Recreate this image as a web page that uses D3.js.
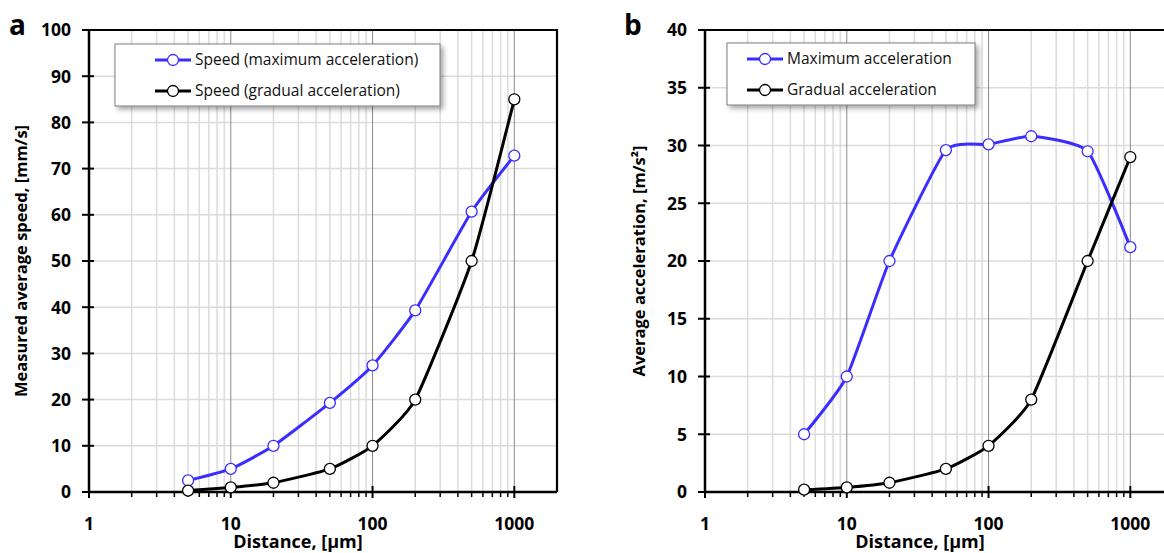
<!DOCTYPE html>
<html>
<head>
<meta charset="utf-8">
<script src="https://cdn.jsdelivr.net/npm/d3@7"></script>
<style>
  body { margin: 0; background: #fff; }
  svg { display: block; font-family: "Open Sans", "DejaVu Sans", sans-serif; }
</style>
</head>
<body>
<div id="chart"></div>
<script>
// distances, µm
const distances = [5, 10, 20, 50, 100, 200, 500, 1000];

// panel a: measured average speed, mm/s
const speedMax = [2.5, 5, 10, 19.3, 27.4, 39.3, 60.7, 72.8];
const speedGradual = [0.3, 1, 2, 5, 10, 20, 50, 85];

// panel b: average acceleration, m/s²
const accelMax = [5, 10, 20, 29.6, 30.1, 30.8, 29.5, 21.2];
const accelGradual = [0.2, 0.4, 0.8, 2, 4, 8, 20, 29];

const xTickLabels = [1, 10, 100, 1000];
const speedTicks = [0, 10, 20, 30, 40, 50, 60, 70, 80, 90, 100];
const accelTicks = [0, 5, 10, 15, 20, 25, 30, 35, 40];

const BLUE = '#3a2dff';

const svg = d3.select('#chart').append('svg')
    .attr('width', 1164)
    .attr('height', 553);

const defs = svg.append('defs');
defs.append('filter')
    .attr('id', 'shadow')
    .attr('x', '-10%').attr('y', '-20%')
    .attr('width', '130%').attr('height', '160%')
    .append('feDropShadow')
    .attr('dx', 3).attr('dy', 3)
    .attr('stdDeviation', 2.5)
    .attr('flood-color', '#000')
    .attr('flood-opacity', 0.35);

function drawPanel(opts) {
    const top = 30, bottom = 492;
    const x = d3.scaleLog().domain([1, 2000]).range([opts.left, opts.right]);
    const y = d3.scaleLinear().domain([0, opts.yMax]).range([bottom, top]);
    const g = svg.append('g');

    // minor vertical grid
    const minors = [];
    for (let dec = 1; dec < 2000; dec *= 10) {
        for (let k = 2; k <= 9; k++) if (dec * k < 2000) minors.push(dec * k);
    }
    g.append('g').selectAll('line').data(minors).join('line')
        .attr('x1', d => x(d)).attr('x2', d => x(d))
        .attr('y1', top).attr('y2', bottom)
        .attr('stroke', '#dcdcdc').attr('stroke-width', 1.5);

    // horizontal grid
    g.append('g').selectAll('line').data(opts.yTicks.slice(1)).join('line')
        .attr('x1', opts.left).attr('x2', opts.right)
        .attr('y1', d => y(d)).attr('y2', d => y(d))
        .attr('stroke', '#dcdcdc').attr('stroke-width', 1.5);

    // major vertical grid
    g.append('g').selectAll('line').data([10, 100, 1000]).join('line')
        .attr('x1', d => x(d)).attr('x2', d => x(d))
        .attr('y1', top).attr('y2', bottom)
        .attr('stroke', '#8a8a8a').attr('stroke-width', 1);

    // frame: top and right
    g.append('path')
        .attr('d', `M${opts.left},${top}H${opts.right}V${bottom}`)
        .attr('fill', 'none').attr('stroke', '#000').attr('stroke-width', 2.2);

    // x axis
    const xAxis = g.append('g').attr('transform', `translate(0,${bottom})`);
    xAxis.append('line').attr('x1', opts.left).attr('x2', opts.right)
        .attr('stroke', '#000').attr('stroke-width', 2.5);
    xAxis.selectAll('.minor').data(minors).join('line')
        .attr('x1', d => x(d)).attr('x2', d => x(d))
        .attr('y1', 0).attr('y2', 5)
        .attr('stroke', '#000').attr('stroke-width', 1.5);
    xAxis.selectAll('.major').data(xTickLabels).join('line')
        .attr('x1', d => x(d)).attr('x2', d => x(d))
        .attr('y1', -6).attr('y2', 6)
        .attr('stroke', '#000').attr('stroke-width', 2);
    xAxis.selectAll('text').data(xTickLabels).join('text')
        .attr('x', d => x(d)).attr('y', 38)
        .attr('text-anchor', 'middle')
        .attr('font-size', 17.5).attr('font-weight', 700)
        .text(d => d);

    // y axis
    const yAxis = g.append('g').attr('transform', `translate(${opts.left},0)`);
    yAxis.append('line').attr('y1', top - 1).attr('y2', bottom + 1)
        .attr('stroke', '#000').attr('stroke-width', 2.5);
    yAxis.selectAll('.tick').data(opts.yTicks).join('line')
        .attr('x1', -7).attr('x2', 5)
        .attr('y1', d => y(d)).attr('y2', d => y(d))
        .attr('stroke', '#000').attr('stroke-width', 2);
    yAxis.selectAll('text').data(opts.yTicks).join('text')
        .attr('x', -18).attr('y', d => y(d))
        .attr('dy', '0.36em')
        .attr('text-anchor', 'end')
        .attr('font-size', 17.5).attr('font-weight', 700)
        .text(d => d);

    // axis titles
    g.append('text')
        .attr('x', opts.xTitleX).attr('y', 548)
        .attr('text-anchor', 'middle')
        .attr('font-size', 18).attr('font-weight', 700)
        .text('Distance, [µm]');
    g.append('text')
        .attr('transform', `translate(${opts.yTitleX},${(top + bottom) / 2}) rotate(-90)`)
        .attr('text-anchor', 'middle')
        .attr('font-size', 16.5).attr('font-weight', 700)
        .text(opts.yTitle);

    // panel letter
    g.append('text')
        .attr('x', opts.letterX).attr('y', 35)
        .attr('font-size', 28).attr('font-weight', 700)
        .text(opts.letter);

    // series
    const line = d3.line()
        .x(d => x(d[0])).y(d => y(d[1]))
        .curve(d3.curveCardinal.tension(0.5));

    opts.series.forEach(s => {
        const pts = distances.map((d, i) => [d, s.values[i]]);
        g.append('path')
            .datum(pts)
            .attr('d', line)
            .attr('fill', 'none')
            .attr('stroke', s.color)
            .attr('stroke-width', 3);
        g.append('g').selectAll('circle').data(pts).join('circle')
            .attr('cx', d => x(d[0])).attr('cy', d => y(d[1]))
            .attr('r', 5.5)
            .attr('fill', '#fff')
            .attr('stroke', s.color)
            .attr('stroke-width', 1.3);
    });

    // legend
    const L = opts.legend;
    const lg = g.append('g').attr('transform', `translate(${L.x},${L.y})`);
    lg.append('rect')
        .attr('width', L.w).attr('height', 62)
        .attr('fill', '#fff')
        .attr('stroke', '#7f7f7f').attr('stroke-width', 1)
        .attr('filter', 'url(#shadow)');
    opts.series.forEach((s, i) => {
        const row = lg.append('g').attr('transform', `translate(0,${16 + i * 31})`);
        row.append('line').attr('x1', L.pad).attr('x2', L.pad + 36)
            .attr('stroke', s.color).attr('stroke-width', 3);
        row.append('circle').attr('cx', L.pad + 18).attr('r', 5.5)
            .attr('fill', '#fff').attr('stroke', s.color).attr('stroke-width', 1.3);
        row.append('text').attr('x', L.pad + 40).attr('dy', '0.35em')
            .attr('font-size', 15.5)
            .attr('fill', '#111')
            .text(s.name);
    });
}

drawPanel({
    left: 89, right: 557, yMax: 100, yTicks: speedTicks,
    yTitle: 'Measured average speed, [mm/s]', yTitleX: 27,
    xTitleX: 298, letter: 'a', letterX: 9,
    legend: { x: 115, y: 44, w: 325, pad: 40 },
    series: [
        { name: 'Speed (maximum acceleration)', values: speedMax, color: BLUE },
        { name: 'Speed (gradual acceleration)', values: speedGradual, color: '#000' }
    ]
});

drawPanel({
    left: 705, right: 1173, yMax: 40, yTicks: accelTicks,
    yTitle: 'Average acceleration, [m/s²]', yTitleX: 645,
    xTitleX: 920, letter: 'b', letterX: 624,
    legend: { x: 727, y: 43, w: 248, pad: 20 },
    series: [
        { name: 'Maximum acceleration', values: accelMax, color: BLUE },
        { name: 'Gradual acceleration', values: accelGradual, color: '#000' }
    ]
});
</script>
</body>
</html>
